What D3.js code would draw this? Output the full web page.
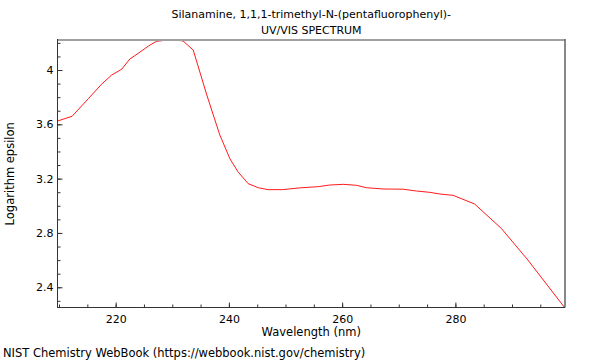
<!DOCTYPE html>
<html><head><meta charset="utf-8">
<script src="https://cdn.jsdelivr.net/npm/d3@7"></script>
<style>body{margin:0;background:#fff}svg{display:block}text{font-family:"DejaVu Sans",sans-serif;fill:#000}</style>
</head><body><svg id="c" width="600" height="360"></svg>
<script>
const wavelength = [209.7,212.3,215.2,217.5,219.3,221.1,222.5,224.0,225.8,227.2,228.8,230.5,231.9,233.7,236.1,238.4,240.2,241.6,243.4,245.2,246.9,249.5,252.5,255.8,257.8,260.2,262.5,264.3,267.2,270.8,273.1,275.5,277.2,279.6,283.4,288.1,292.8,299.3];
const logEps = [3.624,3.659,3.790,3.895,3.963,4.007,4.081,4.123,4.177,4.211,4.219,4.221,4.214,4.147,3.816,3.521,3.345,3.251,3.163,3.133,3.119,3.119,3.132,3.141,3.153,3.158,3.151,3.133,3.124,3.122,3.109,3.099,3.087,3.077,3.013,2.834,2.601,2.250];
const xTicks = [220,240,260,280];
const yTicks = [2.4,2.8,3.2,3.6,4.0];
const titleLines = ["Silanamine, 1,1,1-trimethyl-N-(pentafluorophenyl)-","UV/VIS SPECTRUM"];

const svg = d3.select("#c");
const L=57.5,R=565,T=40,B=307.5;
const x = d3.scaleLinear().domain([209.73,299.36]).range([L,R]);
const y = d3.scaleLinear().domain([2.251,4.221]).range([B,T]);

// line
svg.append("path").datum(wavelength.map((w,i)=>[w,logEps[i]]))
  .attr("fill","none").attr("stroke","#ff0000").attr("stroke-width",0.9)
  .attr("d",d3.line().x(d=>x(d[0])).y(d=>y(d[1])));

// frame
svg.append("line").attr("x1",L).attr("x2",R).attr("y1",T).attr("y2",T).attr("stroke","#a0a0a0").attr("stroke-width",2);
svg.append("line").attr("x1",R).attr("x2",R).attr("y1",T-1).attr("y2",B).attr("stroke","#606060").attr("stroke-width",1.5);

// x axis
const xMinor = d3.range(210,300,5);
const xa = svg.append("g").attr("transform",`translate(0,${B})`);
xa.call(d3.axisBottom(x).tickValues(xMinor).tickSize(-3).tickFormat(""));
xa.append("g").call(d3.axisBottom(x).tickValues(xTicks).tickSize(-5).tickFormat(d3.format("d")));
xa.selectAll("path.domain").attr("stroke","#333").attr("d",`M${L},0H${R}`);
xa.selectAll("line").attr("stroke","#333");
xa.selectAll("text").attr("font-size",11).attr("fill","#000").attr("y",8).attr("dy","0.71em").attr("font-family","DejaVu Sans");

// y axis
const yMinor = d3.range(23,43).map(v=>v/10);
const ya = svg.append("g").attr("transform",`translate(${L},0)`);
ya.call(d3.axisLeft(y).tickValues(yMinor).tickSize(-3).tickFormat(""));
ya.append("g").call(d3.axisLeft(y).tickValues(yTicks).tickSize(-5).tickFormat(d=>d3.format("")(+d.toFixed(1))));
ya.selectAll("path.domain").attr("stroke","#333").attr("d",`M0,${T-1}V${B}`);
ya.selectAll("line").attr("stroke","#333");
ya.selectAll("text").attr("font-size",11).attr("fill","#000").attr("x",-4).attr("font-family","DejaVu Sans");

// titles
titleLines.forEach((t,i)=>svg.append("text").attr("x",(L+R)/2).attr("y",18+i*16).attr("text-anchor","middle").attr("font-size",11).text(t));
svg.append("text").attr("x",(L+R)/2).attr("y",336).attr("text-anchor","middle").attr("font-size",11.5).text("Wavelength (nm)");
svg.append("text").attr("transform",`translate(14,${(T+B)/2}) rotate(-90)`).attr("text-anchor","middle").attr("font-size",11.5).text("Logarithm epsilon");
svg.append("text").attr("x",3).attr("y",357).attr("font-size",11.5).text("NIST Chemistry WebBook (https://webbook.nist.gov/chemistry)");
</script></body></html>
